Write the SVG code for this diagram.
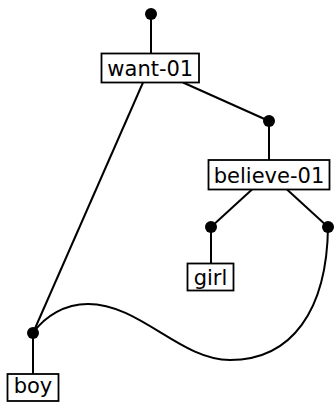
<svg xmlns="http://www.w3.org/2000/svg" width="334" height="402" viewBox="0 0 334 402">
<style>
.box{fill:#fff;stroke:#000;stroke-width:1.8}
.lbl{font-family:"DejaVu Sans",sans-serif;font-size:21px;text-anchor:middle;fill:#000}
.edge{fill:none;stroke:#000;stroke-width:2}
.dot{fill:#000}
</style>
<rect width="334" height="402" fill="#fff"/>
<g id="connectors">
<line class="edge" x1="151" y1="14" x2="151" y2="53.5"/>
<line class="edge" x1="143" y1="82.5" x2="33" y2="333"/>
<line class="edge" x1="183" y1="82.5" x2="269" y2="121"/>
<line class="edge" x1="269" y1="121" x2="269" y2="160"/>
<line class="edge" x1="252" y1="189.5" x2="211" y2="227"/>
<line class="edge" x1="287" y1="189.5" x2="328" y2="227"/>
<line class="edge" x1="211" y1="227" x2="211" y2="263.5"/>
<line class="edge" x1="33" y1="333" x2="33" y2="374"/>
<path class="edge" d="M33,333 C45,316 65,304 88,304 C140,304 180,360 230,360 C292,360 327,310 328,227"/>
</g>
<g id="dot-top"><circle class="dot" cx="151" cy="14" r="6"/></g>
<g id="dot-believe"><circle class="dot" cx="269" cy="121" r="6"/></g>
<g id="dot-girl"><circle class="dot" cx="211" cy="227" r="6"/></g>
<g id="dot-right"><circle class="dot" cx="328" cy="227" r="6"/></g>
<g id="dot-boy"><circle class="dot" cx="33" cy="333" r="6"/></g>
<g id="want-01"><rect class="box" x="101.5" y="53.5" width="97.5" height="29"/><text class="lbl" x="150.3" y="76">want-01</text></g>
<g id="believe-01"><rect class="box" x="208.5" y="160" width="121" height="29.5"/><text class="lbl" x="269" y="182.5">believe-01</text></g>
<g id="girl"><rect class="box" x="187.5" y="263.5" width="46" height="27"/><text class="lbl" x="210.5" y="285">girl</text></g>
<g id="boy"><rect class="box" x="7.5" y="374" width="51" height="27"/><text class="lbl" x="33" y="393">boy</text></g>
</svg>
